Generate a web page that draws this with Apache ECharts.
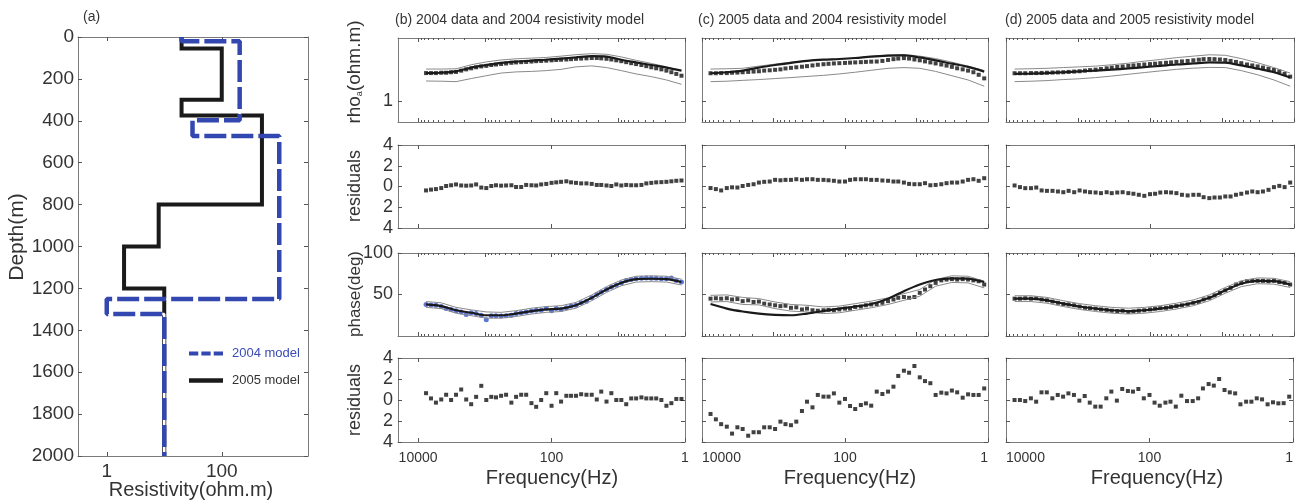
<!DOCTYPE html>
<html>
<head>
<meta charset="utf-8">
<script src="https://cdn.jsdelivr.net/npm/echarts@6/dist/echarts.min.js"></script>
<style>
  html, body { margin: 0; padding: 0; background: #fff; }
  #main { width: 1296px; height: 502px; }
</style>
</head>
<body>
<div id="main"></div>
<script>
// ---- layered models, panel (a) ----
const model2004Top = [0, 20, 397, 472, 1250, 1322];
const model2004Rho = [20, 205, 31, 1000, 1, 10];
const model2005Top = [0, 55, 300, 375, 800, 1000, 1200];
const model2005Rho = [20, 100, 20, 500, 8, 2, 10];
const maxDepth = 2000;
const resistivityTicks = [1, 100];

// ---- frequencies (Hz) ----
const freq = [7600, 6400, 5400, 4500, 3800, 3200, 2700, 2260, 1900, 1600,
  1350, 1130, 950, 800, 680, 570, 480, 400, 340, 285,
  240, 200, 170, 143, 120, 100, 85, 72, 60, 51,
  43, 36, 30, 25, 21, 18, 15, 12.7, 10.7, 9,
  7.6, 6.4, 5.4, 4.5, 3.8, 3.2, 2.7, 2.26, 1.9, 1.6,
  1.35, 1.13];
const lineFreq = [7600, 4500, 2700, 1600, 950, 570, 340, 200, 120, 72, 43, 25, 15, 9, 5.4, 3.2, 1.9, 1.13];
const freqMajor = [1, 10, 100, 1000, 10000];
const freqLabels = [1, 100, 10000];
const rhoTicks = [1];

// ---- (b) 2004 data, 2004 model ----
const bRhoObs = [2.15, 2.15, 2.15, 2.17, 2.17, 2.2, 2.22, 2.3, 2.38, 2.45,
  2.52, 2.58, 2.62, 2.68, 2.72, 2.76, 2.8, 2.85, 2.88, 2.9,
  2.92, 2.95, 2.98, 3.0, 3.02, 3.05, 3.08, 3.1, 3.12, 3.15,
  3.18, 3.2, 3.22, 3.25, 3.25, 3.22, 3.18, 3.12, 3.05, 2.98,
  2.9, 2.82, 2.75, 2.68, 2.6, 2.52, 2.45, 2.38, 2.3, 2.2,
  2.1, 2.0];
const bRhoModel = [2.15, 2.17, 2.25, 2.5, 2.68, 2.85, 2.95, 3.02, 3.1, 3.2, 3.3, 3.42, 3.38, 3.1, 2.88, 2.68, 2.5, 2.3];
const bRhoUpper = [2.4, 2.4, 2.42, 2.7, 2.92, 3.08, 3.18, 3.24, 3.3, 3.42, 3.56, 3.66, 3.6, 3.35, 3.05, 2.8, 2.55, 2.3];
const bRhoLower = [1.73, 1.72, 1.7, 1.85, 2.0, 2.15, 2.22, 2.25, 2.3, 2.38, 2.55, 2.62, 2.5, 2.3, 2.1, 1.95, 1.78, 1.58];
const bRhoRes = [-0.38, -0.3, -0.25, -0.15, 0.05, 0.12, 0.2, 0.1, 0.08, 0.1,
  0.2, -0.1, -0.15, 0.05, 0.12, 0.08, 0.1, 0.12, -0.05, -0.05,
  0.15, 0.12, 0.1, 0.2, 0.25, 0.35, 0.4, 0.45, 0.5, 0.4,
  0.35, 0.3, 0.3, 0.25, 0.15, 0.15, 0.1, 0.05, 0.2, 0.1,
  0.15, 0.12, 0.12, 0.15, 0.3, 0.35, 0.4, 0.42, 0.45, 0.5,
  0.55, 0.58];
const bPhaseObs = [38, 37.5, 37, 35.5, 33, 32, 30.5, 29, 26, 28,
  27, 25, 19.5, 24.5, 24.5, 24, 24.5, 25, 27, 28,
  29, 30, 31, 31, 33, 30.5, 33, 32, 34, 36,
  37, 40, 42, 46, 50, 53, 56, 59, 61, 64,
  67, 68, 69, 69.5, 70, 69.5, 69.5, 69, 69, 70,
  67, 65];
const bPhaseModel = [38, 36, 31, 28, 25, 25, 27, 30, 32, 33, 37, 46, 56, 64, 68.5, 69, 68.5, 65];
const bPhaseUpper = [41.5, 40, 34.5, 31.5, 29, 28.5, 30.5, 33.5, 35.5, 36.5, 40.5, 49.5, 59.5, 67.5, 72, 72.5, 72, 68.5];
const bPhaseLower = [34.5, 33, 27.5, 24.5, 21.5, 21.5, 23.5, 26.5, 28.5, 29.5, 33.5, 42.5, 52.5, 60.5, 65, 65.5, 65, 61.5];
const bPhaseRes = [0.65, 0.15, -0.25, 0.05, 0.5, 0, 0.5, 1.0, 0.05, -0.4,
  0.3, 1.35, 0, 0.3, 0.25, 0.4, 0.5, -0.25, 0.3, 0.5,
  0.5, -0.3, -0.65, 0, 0.65, -0.55, 0.65, -0.15, 0.4, 0.4,
  0.4, 0.55, 0.5, 0.5, 0.05, 0.8, -0.15, 0.65, 0, 0,
  -0.4, 0.15, 0.15, 0.25, 0.15, 0.15, 0.15, 0, -0.55, -0.3,
  0.1, 0.1];

// ---- (c) 2005 data, 2004 model ----
const cRhoObs = [2.14, 2.14, 2.15, 2.15, 2.17, 2.18, 2.2, 2.22, 2.24, 2.26,
  2.3, 2.32, 2.35, 2.38, 2.44, 2.48, 2.52, 2.56, 2.6, 2.65,
  2.7, 2.74, 2.77, 2.8, 2.82, 2.84, 2.86, 2.88, 2.9, 2.92,
  2.94, 2.95, 3.0, 3.08, 3.15, 3.2, 3.24, 3.2, 3.12, 3.05,
  2.96, 2.88, 2.8, 2.72, 2.64, 2.55, 2.45, 2.38, 2.3, 2.2,
  2.05, 1.86];
const cRhoModel = [2.14, 2.2, 2.3, 2.5, 2.68, 2.85, 3.0, 3.1, 3.16, 3.25, 3.38, 3.47, 3.5, 3.3, 3.05, 2.78, 2.55, 2.24];
const cRhoUpper = [2.4, 2.42, 2.45, 2.6, 2.75, 2.9, 3.02, 3.1, 3.16, 3.25, 3.4, 3.52, 3.58, 3.42, 3.2, 2.9, 2.6, 2.3];
const cRhoLower = [1.7, 1.72, 1.76, 1.8, 1.85, 1.9, 1.96, 2.02, 2.1, 2.2, 2.32, 2.45, 2.5, 2.45, 2.25, 2.0, 1.78, 1.5];
const cRhoRes = [-0.15, -0.25, -0.38, -0.15, -0.08, -0.1, 0.05, 0.15, 0.22, 0.38,
  0.45, 0.48, 0.64, 0.6, 0.64, 0.64, 0.7, 0.64, 0.7, 0.7,
  0.64, 0.64, 0.6, 0.55, 0.48, 0.48, 0.64, 0.7, 0.7, 0.7,
  0.64, 0.64, 0.58, 0.55, 0.48, 0.48, 0.38, 0.25, 0.22, 0.22,
  0.32, 0.12, 0.15, 0.22, 0.32, 0.38, 0.38, 0.48, 0.64, 0.7,
  0.55, 0.8];
const cPhaseObs = [45, 45.5, 45, 45.5, 44, 44.5, 42, 43, 41, 41.5,
  39, 38, 37, 36, 36.5, 34, 34.5, 32, 33, 31,
  30.5, 31, 31.5, 31, 32, 33, 33, 35, 35.5, 37,
  38, 38.5, 40, 42, 44, 46, 47, 46, 47, 52,
  56, 60, 64, 67, 68, 68.5, 68, 68.5, 68, 67,
  66, 62];
const cPhaseModel = [38.5, 33, 29.5, 27, 25.5, 25, 27, 30, 33, 35.5, 38.5, 45, 54, 62, 67.5, 69.5, 69, 65];
const cPhaseUpper = [49, 49.5, 46.5, 45, 41, 38, 37, 35, 36, 39, 42, 46, 51, 56, 68, 72.5, 72, 66];
const cPhaseLower = [41, 41.5, 38, 37.5, 33, 30, 29, 27, 28, 31, 34, 38, 43, 48, 60, 64.5, 64, 58];
const cPhaseRes = [-1.33, -1.84, -2.3, -2.54, -3.2, -2.6, -2.76, -3.4, -3.07, -3.07,
  -2.6, -2.6, -2.76, -2.06, -2.3, -2.4, -2.06, -1.05, -0.16, -0.7,
  0.48, 0.32, 0.32, 0.63, -0.25, 0.1, -0.57, -0.86, -0.48, -0.32,
  -0.54, 0.8, 0.57, 0.8, 1.27, 2.29, 2.79, 2.6, 3.24, 2.16,
  1.8, 1.6, 0.48, 0.7, 0.63, 0.9, 0.73, 0.22, 0.54, 0.48,
  0.48, 1.1];

// ---- (d) 2005 data, 2005 model ----
const dRhoObs = [2.14, 2.14, 2.14, 2.15, 2.15, 2.16, 2.17, 2.18, 2.19, 2.2,
  2.22, 2.24, 2.26, 2.3, 2.33, 2.36, 2.4, 2.45, 2.5, 2.54,
  2.58, 2.62, 2.65, 2.68, 2.72, 2.75, 2.78, 2.82, 2.85, 2.88,
  2.92, 2.96, 3.0, 3.05, 3.1, 3.15, 3.16, 3.15, 3.12, 3.08,
  3.0, 2.92, 2.82, 2.72, 2.65, 2.58, 2.5, 2.42, 2.34, 2.25,
  2.1, 1.95];
const dRhoModel = [2.1, 2.12, 2.15, 2.2, 2.25, 2.3, 2.36, 2.44, 2.53, 2.62, 2.72, 2.8, 2.88, 2.86, 2.65, 2.42, 2.2, 1.9];
const dRhoUpper = [2.4, 2.42, 2.45, 2.5, 2.55, 2.6, 2.7, 2.82, 2.98, 3.12, 3.28, 3.42, 3.55, 3.5, 3.2, 2.85, 2.5, 2.15];
const dRhoLower = [1.7, 1.72, 1.75, 1.8, 1.84, 1.9, 1.98, 2.08, 2.18, 2.28, 2.38, 2.46, 2.51, 2.5, 2.3, 2.05, 1.78, 1.5];
const dRhoRes = [0.1, -0.06, -0.16, -0.16, -0.1, -0.38, -0.42, -0.42, -0.48, -0.55,
  -0.42, -0.55, -0.38, -0.48, -0.55, -0.58, -0.64, -0.55, -0.64, -0.58,
  -0.55, -0.64, -0.7, -0.8, -0.9, -0.74, -0.7, -0.58, -0.55, -0.58,
  -0.64, -0.8, -0.86, -0.8, -0.8, -1.03, -1.12, -1.06, -1.06, -0.96,
  -0.96, -0.8, -0.7, -0.58, -0.48, -0.55, -0.48, -0.32, -0.06, 0.06,
  -0.06, 0.38];
const dPhaseObs = [45, 45, 45.5, 45, 45.5, 44, 43, 41.5, 40, 38.5,
  38, 37, 35.5, 34, 33.5, 33, 32, 31.5, 30.5, 30,
  30.5, 29, 29.5, 30.5, 31, 32, 33, 33.5, 34, 35,
  36, 37, 38, 40, 41, 44, 46, 49, 52, 55,
  58, 62, 64, 66, 66.5, 66.5, 66.5, 66, 66.5, 65,
  64, 62];
const dPhaseModel = [45, 45, 43, 39, 35.5, 33, 31, 30, 31, 33, 36, 40, 46, 55, 63, 66.5, 66, 62];
const dPhaseUpper = [48.5, 48.5, 46.5, 42.5, 39, 36.5, 34.5, 33.5, 34.5, 36.5, 39.5, 43.5, 49.5, 58.5, 66.5, 70, 69.5, 65.5];
const dPhaseLower = [41.5, 41.5, 39.5, 35.5, 32, 29.5, 27.5, 26.5, 27.5, 29.5, 32.5, 36.5, 42.5, 51.5, 59.5, 63, 62.5, 58.5];
const dPhaseRes = [0, 0, -0.1, 0.16, -0.16, 0.73, 0.73, 0.16, 0.48, 0.32,
  0.63, 0.48, -0.06, 0.38, -0.25, -0.63, -0.63, 0.16, 0.8, -0.06,
  1.05, 0.86, 0.8, 1.05, 0.16, 0.48, -0.25, -0.54, -0.25, -0.16,
  -0.63, 0.41, -0.1, -0.1, 0.16, 1.1, 1.52, 1.37, 2.0, 0.95,
  0.73, 0.63, -0.41, -0.16, -0.16, 0.16, 0.06, -0.41, -0.22, -0.32,
  -0.3, 0.32];

// ---- styling ----
const fontFamily = 'Liberation Sans, Arial, sans-serif';
const boxColor = '#7a7a7a';
const tickColor = '#555';
const textDark = '#333';
const black = '#1a1a1a';
const dotBlack = '#111';
const errGray = '#8a8a8a';
const blue2004 = '#3347b0';

const freqMinor = [];
for (let e = 0; e < 4; e++) {
  for (let m = 2; m <= 9; m++) freqMinor.push(m * Math.pow(10, e));
}

function pairs(xs, ys) {
  return xs.map((x, i) => [x, ys[i]]);
}

// polyline of a layered model: rho on x, depth on y
function layerPath(tops, rhos) {
  const pts = [];
  tops.forEach((t, i) => {
    const bottom = i < tops.length - 1 ? tops[i + 1] : maxDepth;
    pts.push([rhos[i], t], [rhos[i], bottom]);
  });
  return pts;
}

const grids = [];
const xAxes = [];
const yAxes = [];
const series = [];

// ---------- panel (a) ----------
grids.push({ left: 78, top: 37, width: 230, height: 419 });
['bottom', 'top'].forEach(pos => {
  xAxes.push({
    gridIndex: 0, type: 'log', logBase: 10, min: 0.3162, max: 3162, position: pos,
    axisLine: { onZero: false, lineStyle: { color: boxColor } },
    axisTick: { inside: true, length: 4, customValues: resistivityTicks, lineStyle: { color: tickColor } },
    axisLabel: {
      show: pos === 'bottom', customValues: resistivityTicks, fontSize: 19, color: textDark,
      margin: 6, formatter: v => String(Math.round(v))
    },
    splitLine: { show: false }
  });
});
['left', 'right'].forEach(pos => {
  yAxes.push({
    gridIndex: 0, type: 'value', min: 0, max: maxDepth, interval: 200, inverse: true, position: pos,
    axisLine: { onZero: false, lineStyle: { color: boxColor } },
    axisTick: { inside: true, length: 4, lineStyle: { color: tickColor } },
    axisLabel: { show: pos === 'left', fontSize: 19, color: textDark, margin: 4, formatter: v => String(v) },
    splitLine: { show: false }
  });
});
series.push({
  name: '2005 model', type: 'line', xAxisIndex: 0, yAxisIndex: 0, symbol: 'none',
  data: layerPath(model2005Top, model2005Rho),
  lineStyle: { color: black, width: 4, join: 'miter' }, itemStyle: { color: black }
});
series.push({
  name: '2004 underlay', type: 'line', xAxisIndex: 0, yAxisIndex: 0, symbol: 'none',
  data: layerPath(model2004Top, model2004Rho),
  lineStyle: { color: '#ffffff', width: 2.5 }
});
series.push({
  name: '2004 model', type: 'line', xAxisIndex: 0, yAxisIndex: 0, symbol: 'none',
  data: layerPath(model2004Top, model2004Rho),
  lineStyle: { color: blue2004, width: 4.5, type: [22, 5] }, itemStyle: { color: blue2004 }
});

// ---------- panels (b), (c), (d) ----------
const columns = [
  {
    left: 398, width: 287, fmax: 20000, yLabels: true, edgeAlign: false, dotColor: '#3452cc',
    rhoObs: bRhoObs, rhoModel: bRhoModel, rhoUpper: bRhoUpper, rhoLower: bRhoLower, rhoRes: bRhoRes,
    phaseObs: bPhaseObs, phaseModel: bPhaseModel, phaseUpper: bPhaseUpper, phaseLower: bPhaseLower, phaseRes: bPhaseRes
  },
  {
    left: 702, width: 286, fmax: 10000, yLabels: false, edgeAlign: true, dotColor: dotBlack,
    rhoObs: cRhoObs, rhoModel: cRhoModel, rhoUpper: cRhoUpper, rhoLower: cRhoLower, rhoRes: cRhoRes,
    phaseObs: cPhaseObs, phaseModel: cPhaseModel, phaseUpper: cPhaseUpper, phaseLower: cPhaseLower, phaseRes: cPhaseRes
  },
  {
    left: 1006, width: 288, fmax: 10000, yLabels: false, edgeAlign: true, dotColor: dotBlack,
    rhoObs: dRhoObs, rhoModel: dRhoModel, rhoUpper: dRhoUpper, rhoLower: dRhoLower, rhoRes: dRhoRes,
    phaseObs: dPhaseObs, phaseModel: dPhaseModel, phaseUpper: dPhaseUpper, phaseLower: dPhaseLower, phaseRes: dPhaseRes
  }
];
const rows = [
  { kind: 'rho', top: 38, height: 84 },
  { kind: 'res', top: 145, height: 83 },
  { kind: 'phase', top: 253, height: 83 },
  { kind: 'res', top: 358, height: 84 }
];

function freqAxis(g, pos, fmax, ticks, len, line, labels, edgeAlign) {
  return {
    gridIndex: g, type: 'log', logBase: 10, min: 1, max: fmax, inverse: true, position: pos,
    axisLine: { show: line, onZero: false, lineStyle: { color: boxColor } },
    axisTick: { show: true, inside: true, length: len, customValues: ticks, lineStyle: { color: tickColor } },
    axisLabel: {
      show: labels, customValues: freqLabels, fontSize: 14, color: textDark, margin: 9,
      formatter: v => String(Math.round(v)),
      alignMinLabel: edgeAlign ? 'right' : 'center',
      alignMaxLabel: edgeAlign ? 'left' : 'center'
    },
    splitLine: { show: false }
  };
}

function valueAxis(g, kind, pos, labels) {
  const ax = {
    gridIndex: g, position: pos,
    axisLine: { show: true, onZero: false, lineStyle: { color: boxColor } },
    axisTick: { inside: true, length: 4, lineStyle: { color: tickColor } },
    axisLabel: { show: labels, fontSize: 18, color: textDark, margin: 5 },
    splitLine: { show: false }
  };
  if (kind === 'rho') {
    ax.type = 'log';
    ax.min = 0.5623;
    ax.max = 5.623;
    ax.axisTick.customValues = rhoTicks;
    ax.axisLabel.customValues = rhoTicks;
    ax.axisLabel.formatter = v => String(Math.round(v));
  } else if (kind === 'res') {
    ax.type = 'value';
    ax.min = -4;
    ax.max = 4;
    ax.interval = 2;
    ax.axisLabel.formatter = v => String(Math.abs(v));
  } else {
    ax.type = 'value';
    ax.min = 0;
    ax.max = 100;
    ax.interval = 50;
    ax.axisLabel.showMinLabel = false;
  }
  return ax;
}

function lineSeries(xi, yi, data, color, width, smooth) {
  return {
    type: 'line', xAxisIndex: xi, yAxisIndex: yi, data: data, symbol: 'none',
    smooth: smooth ? 0.3 : false, lineStyle: { color: color, width: width }, silent: true
  };
}
function dotSeries(xi, yi, data, color, symbol, size) {
  return {
    type: 'scatter', xAxisIndex: xi, yAxisIndex: yi, data: data, symbol: symbol,
    symbolSize: size, itemStyle: { color: color }, silent: true
  };
}

columns.forEach(col => {
  rows.forEach((row, r) => {
    const g = grids.length;
    grids.push({ left: col.left, top: row.top, width: col.width, height: row.height });
    const dense = row.kind !== 'res';
    const xi = xAxes.length;
    ['bottom', 'top'].forEach(pos => {
      xAxes.push(freqAxis(g, pos, col.fmax, dense ? freqMajor : freqLabels, 4, true,
        pos === 'bottom' && r === 3, col.edgeAlign));
      if (dense) xAxes.push(freqAxis(g, pos, col.fmax, freqMinor, 2, false, false, false));
    });
    const yi = yAxes.length;
    yAxes.push(valueAxis(g, row.kind, 'left', col.yLabels));
    yAxes.push(valueAxis(g, row.kind, 'right', false));

    if (row.kind === 'rho') {
      series.push(lineSeries(xi, yi, pairs(lineFreq, col.rhoUpper), errGray, 1, false));
      series.push(lineSeries(xi, yi, pairs(lineFreq, col.rhoLower), errGray, 1, false));
      series.push(lineSeries(xi, yi, pairs(lineFreq, col.rhoModel), black, 2.2, true));
      series.push(dotSeries(xi, yi, pairs(freq, col.rhoObs), dotBlack, 'rect', 4));
    } else if (row.kind === 'phase') {
      series.push(lineSeries(xi, yi, pairs(lineFreq, col.phaseUpper), errGray, 1, false));
      series.push(lineSeries(xi, yi, pairs(lineFreq, col.phaseLower), errGray, 1, false));
      series.push(lineSeries(xi, yi, pairs(lineFreq, col.phaseModel), black, 2.2, true));
      const isBlack = col.dotColor === dotBlack;
      series.push(dotSeries(xi, yi, pairs(freq, col.phaseObs), col.dotColor,
        isBlack ? 'rect' : 'circle', isBlack ? 4 : 5));
    } else {
      const res = r === 1 ? col.rhoRes : col.phaseRes;
      series.push(dotSeries(xi, yi, pairs(freq, res), dotBlack, 'rect', 4));
    }
  });
});

// ---------- texts ----------
function text(str, x, y, size, opts) {
  opts = opts || {};
  return {
    type: 'text', x: x, y: y, rotation: opts.rotate ? Math.PI / 2 : 0, silent: true,
    style: {
      text: str, fontSize: size, fontFamily: fontFamily, fill: opts.color || textDark,
      align: opts.align || 'center', verticalAlign: 'middle', rich: opts.rich
    }
  };
}

const graphic = [
  text('(a)', 83, 17, 14, { align: 'left' }),
  text('(b) 2004 data and 2004 resistivity model', 395, 20, 14, { align: 'left' }),
  text('(c) 2005 data and 2004 resistivity model', 698, 20, 14, { align: 'left' }),
  text('(d) 2005 data and 2005 resistivity model', 1005, 20, 14, { align: 'left' }),
  text('Depth(m)', 17, 237, 21, { rotate: true }),
  text('Resistivity(ohm.m)', 191, 490, 20),
  text('{n|rho}{s|a}{n|(ohm.m)}', 355, 72, 19, {
    rotate: true,
    rich: {
      n: { fontSize: 19, fontFamily: fontFamily, fill: textDark },
      s: { fontSize: 9, fontFamily: fontFamily, fill: textDark, verticalAlign: 'bottom', padding: [6, 0, 0, 0] }
    }
  }),
  text('residuals', 355, 186, 18, { rotate: true }),
  text('phase(deg)', 355, 294, 17, { rotate: true }),
  text('residuals', 355, 400, 18, { rotate: true }),
  text('Frequency(Hz)', 552, 478, 20),
  text('Frequency(Hz)', 850, 478, 20),
  text('Frequency(Hz)', 1157, 478, 20)
];

const chart = echarts.init(document.getElementById('main'), null, { renderer: 'canvas' });

const option = {
  animation: false,
  backgroundColor: '#fff',
  textStyle: { fontFamily: fontFamily },
  legend: {
    orient: 'vertical', left: 184, top: 342, itemWidth: 34, itemHeight: 4.5, itemGap: 14,
    selectedMode: false,
    textStyle: { fontSize: 13, fontFamily: fontFamily, padding: [0, 0, 0, 4] },
    data: [
      {
        name: '2004 model', textStyle: { color: '#3a4bb5' },
        icon: 'path://M0,0h9v4h-9z M12,0h9v4h-9z M24,0h9v4h-9z',
        itemStyle: { color: blue2004 }
      },
      { name: '2005 model', textStyle: { color: textDark }, icon: 'rect', itemStyle: { color: black } }
    ]
  },
  grid: grids,
  xAxis: xAxes,
  yAxis: yAxes,
  series: series,
  graphic: graphic
};

chart.setOption(option);
</script>
</body>
</html>
